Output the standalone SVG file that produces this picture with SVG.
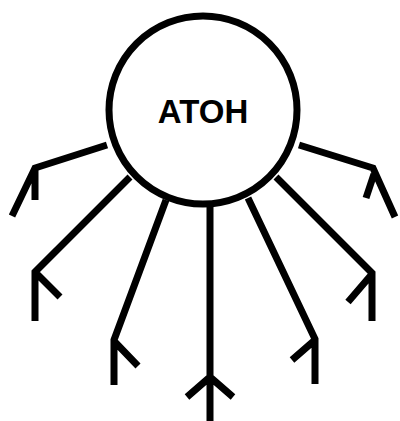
<svg xmlns="http://www.w3.org/2000/svg" width="400" height="421" viewBox="0 0 400 421">
<style>
.c{fill:#fff;stroke:#000;stroke-width:7}
.l{fill:none;stroke:#000;stroke-width:7;stroke-linecap:butt;stroke-linejoin:miter}
.t{font-family:"Liberation Sans",Arial,sans-serif;font-weight:bold;font-size:33px;fill:#000;text-anchor:middle}
</style>
<g id="connectors">
<path class="l" d="M107,145 L35,168 L12,216 M35,168 L35,200"/>
<path class="l" d="M130,177 L35,272 L35,321 M35,272 L60,297"/>
<path class="l" d="M166,200 L114,340 L114,385 M114,341 L138,366"/>
<path class="l" d="M210,207 L210,421 M187,397 L210,377 L233,397"/>
<path class="l" d="M248,198 L315,339 L315,384 M315,340 L292,360"/>
<path class="l" d="M276,177 L372,273 L372,321 M372,274 L348,302"/>
<path class="l" d="M299,145 L373,168 L395,217 M374,174 L366,198"/>
</g>
<g id="node-atoh">
<circle class="c" cx="203" cy="110" r="94"/>
<text class="t" x="203" y="123">ATOH</text>
</g>
</svg>
